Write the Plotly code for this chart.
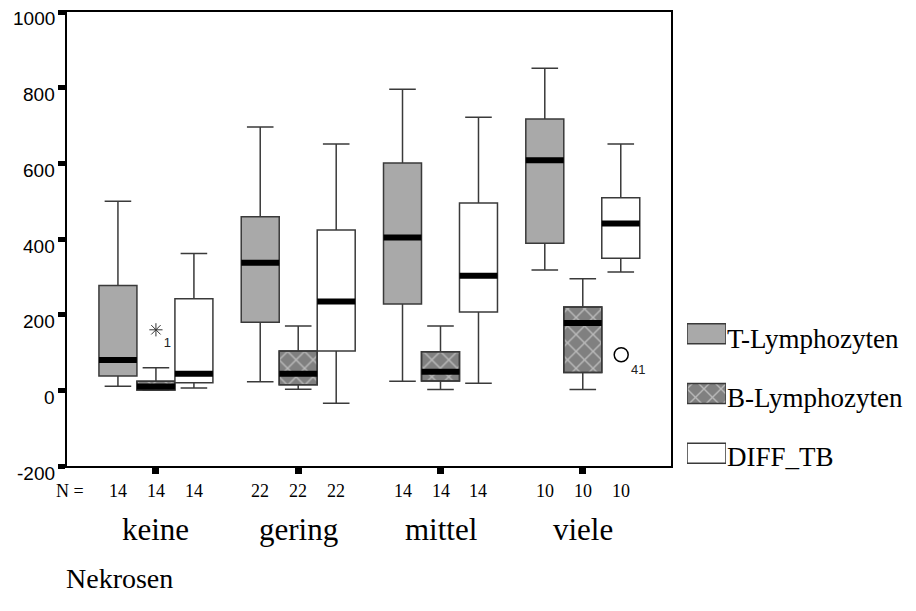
import plotly.graph_objects as go

# ---------------- data ----------------
categories = ["keine", "gering", "mittel", "viele"]
n_counts = [14, 22, 14, 10]
series = ["T-Lymphozyten", "B-Lymphozyten", "DIFF_TB"]

t_low = [11, 23, 24, 318]
t_q1 = [38, 180, 228, 389]
t_med = [80, 337, 404, 608]
t_q3 = [277, 459, 601, 717]
t_high = [500, 696, 796, 851]

b_low = [0, 3, 2, 2]
b_q1 = [1, 15, 25, 47]
b_med = [10, 44, 49, 178]
b_q3 = [24, 104, 102, 220]
b_high = [60, 170, 170, 295]

d_low = [6, -34, 19, 313]
d_q1 = [20, 104, 207, 349]
d_med = [44, 235, 303, 441]
d_q3 = [242, 424, 495, 509]
d_high = [362, 651, 722, 651]

outlier_cat = ["keine", "viele"]
outlier_val = [160, 94]
outlier_id = ["1", "41"]

y_ticks = [-200, 0, 200, 400, 600, 800, 1000]
y_tick_text = ["-200", "0", "200", "400", "600", "800", "1000"]

# ---------------- styling / geometry ----------------
W, H = 916, 611
PAGE_OFF = 8                     # default body margin of the html page
BW = 0.267                       # box width (data units)
OFFS = [-BW, 0.0, BW]            # offset of each series inside a group
FILLS = ["#a9a9a9", "rgba(0,0,0,0)", "#ffffff"]
LINE = "#3a3a3a"
SERIF = "Liberation Serif, Times New Roman, serif"
SANS = "Liberation Sans, Arial, sans-serif"
PATTERN = dict(shape="x", bgcolor="#808080", fgcolor="#f4f4f4",
               size=12, solidity=0.22, fillmode="overlay")

pos = list(range(len(categories)))
stats = [
    (t_low, t_q1, t_med, t_q3, t_high),
    (b_low, b_q1, b_med, b_q3, b_high),
    (d_low, d_q1, d_med, d_q3, d_high),
]


def px_x(p):
    return (p - PAGE_OFF) / W


def px_y(p):
    return (H - (p - PAGE_OFF)) / H


fig = go.Figure()

# patterned body for B-Lymphozyten boxes (drawn first, underneath)
fig.add_trace(go.Bar(
    x=[p + OFFS[1] for p in pos],
    base=b_q1,
    y=[q3 - q1 for q1, q3 in zip(b_q1, b_q3)],
    width=BW,
    marker=dict(color="#808080", pattern=PATTERN,
                line=dict(color=LINE, width=1.5)),
    showlegend=False, hoverinfo="skip",
))

for k, (lo, q1, med, q3, hi) in enumerate(stats):
    xs = [p + OFFS[k] for p in pos]
    fig.add_trace(go.Box(
        x=xs, q1=q1, median=med, q3=q3, lowerfence=lo, upperfence=hi,
        width=BW, whiskerwidth=0.7, boxpoints=False,
        fillcolor=FILLS[k], line=dict(color=LINE, width=1.5),
        name=series[k], showlegend=False,
    ))
    # thick median bars
    mx, my = [], []
    for x0, m in zip(xs, med):
        mx += [x0 - BW / 2, x0 + BW / 2, None]
        my += [m, m, None]
    fig.add_trace(go.Scatter(x=mx, y=my, mode="lines",
                             line=dict(color="black", width=6),
                             showlegend=False, hoverinfo="skip"))

# outliers
ox = [categories.index(c) + OFFS[1] for c in outlier_cat]
fig.add_trace(go.Scatter(
    x=[ox[0]], y=[outlier_val[0]], mode="markers+text",
    marker=dict(symbol="asterisk-open", size=11, color="#333",
                line=dict(width=1, color="#333")),
    text=[outlier_id[0]], textposition="bottom right",
    textfont=dict(family=SANS, size=13, color="#222"),
    showlegend=False, cliponaxis=False,
))
fig.add_trace(go.Scatter(
    x=[ox[1] + 0.27], y=[outlier_val[1]], mode="markers+text",
    marker=dict(symbol="circle-open", size=14, color="black",
                line=dict(width=1.5, color="black")),
    text=[outlier_id[1]], textposition="bottom right",
    textfont=dict(family=SANS, size=13, color="#222"),
    showlegend=False, cliponaxis=False,
))

# ---------------- legend swatches (separate small axes) ----------------
for k in range(3):
    fig.add_trace(go.Bar(
        x=[1], y=[k], base=[0], orientation="h", width=0.335,
        xaxis="x2", yaxis="y2",
        marker=dict(
            color=["#a9a9a9", "#808080", "#ffffff"][k],
            pattern=(PATTERN if k == 1 else dict(shape="")),
            line=dict(color=LINE, width=1.5)),
        showlegend=False, hoverinfo="skip",
    ))

annotations = []
legend_text_y = [339, 398, 457]
for k, name in enumerate(series):
    annotations.append(dict(
        x=px_x(725), y=px_y(legend_text_y[k]), xref="paper", yref="paper",
        xanchor="left", yanchor="middle", text=name, showarrow=False,
        font=dict(family=SERIF, size=27, color="black")))

# y tick labels (slightly below their tick marks, as in the original)
for v, t in zip(y_ticks, y_tick_text):
    annotations.append(dict(
        x=px_x(56), y=v, xref="paper", yref="y", yshift=-7,
        xanchor="right", yanchor="middle", text=t, showarrow=False,
        borderpad=0,
        font=dict(family=SANS, size=19, color="black")))

# N row
annotations.append(dict(
    x=px_x(86), y=px_y(491), xref="paper", yref="paper",
    xanchor="right", yanchor="middle", text="N =", showarrow=False,
    font=dict(family=SERIF, size=18, color="black")))
for p, n in zip(pos, n_counts):
    for off in OFFS:
        annotations.append(dict(
            x=p + off, y=px_y(491), xref="x", yref="paper",
            xanchor="center", yanchor="middle", text=str(n), showarrow=False,
            font=dict(family=SERIF, size=18, color="black")))

# category labels
for p, c in zip(pos, categories):
    annotations.append(dict(
        x=p, y=px_y(529), xref="x", yref="paper",
        xanchor="center", yanchor="middle", text=c, showarrow=False,
        font=dict(family=SERIF, size=31, color="black")))

# axis title
annotations.append(dict(
    x=px_x(64), y=px_y(578), xref="paper", yref="paper",
    xanchor="left", yanchor="middle", text="Nekrosen", showarrow=False,
    font=dict(family=SERIF, size=28, color="black")))

fig.update_layout(
    width=W, height=H, autosize=False,
    margin=dict(l=0, r=0, t=0, b=0),
    paper_bgcolor="white", plot_bgcolor="white",
    showlegend=False, barmode="overlay", boxmode="overlay",
    xaxis=dict(domain=[px_x(67), px_x(671)], range=[-0.625, 3.62],
               tickvals=pos, showticklabels=False,
               ticks="outside", ticklen=6, tickwidth=7, tickcolor="black",
               showline=True, mirror=True, linecolor="black", linewidth=1.5,
               showgrid=False, zeroline=False),
    yaxis=dict(domain=[px_y(466), px_y(12)], range=[-200, 1000],
               tickvals=y_ticks, showticklabels=False,
               ticks="outside", ticklen=7, tickwidth=5, tickcolor="black",
               showline=True, mirror=True, linecolor="black", linewidth=1.5,
               showgrid=False, zeroline=False),
    xaxis2=dict(domain=[px_x(687), px_x(726)], range=[0, 1], visible=False,
                anchor="y2"),
    yaxis2=dict(domain=[px_y(483), px_y(304)], range=[2.5, -0.5],
                visible=False, anchor="x2"),
    annotations=annotations,
)

fig.write_html("out.html")
